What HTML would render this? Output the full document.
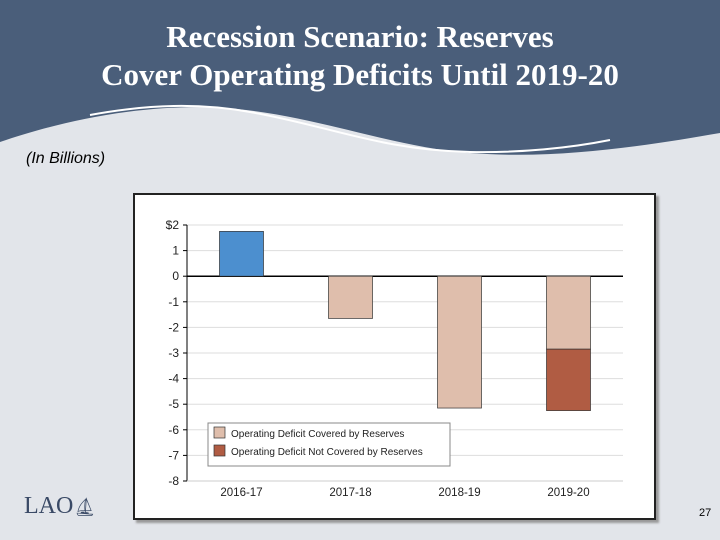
<!DOCTYPE html>
<html><head><meta charset="utf-8"><style>
body{margin:0;width:720px;height:540px;background:#e2e5ea;position:relative;overflow:hidden;font-family:"Liberation Sans",sans-serif}
#title{position:absolute;top:18px;left:0;width:720px;text-align:center;color:#fff;font-family:"Liberation Serif",serif;font-weight:bold;font-size:31px;line-height:38px}
</style></head><body>
<svg width="720" height="170" style="position:absolute;left:0;top:0">
<path d="M0,0 H720 V133 C650,145 560,160 470,153 C380,146 300,108 200,107 C120,107 50,125 0,142 Z" fill="#4a5e7a"/>
<path d="M90,115 C150,104 200,103 250,112 C330,126 380,150 470,152 C520,153 570,148 610,140" fill="none" stroke="#fff" stroke-width="2"/>
</svg>
<div id="title">Recession Scenario: Reserves<br>Cover Operating Deficits Until 2019-20</div>
<div style="position:absolute;left:26px;top:150px;font-style:italic;font-size:16px;color:#000">(In Billions)</div>
<div style="position:absolute;left:133px;top:193px;width:519px;height:323px;background:#fff;border:2px solid #222;box-shadow:3px 3px 2px #999"></div>
<svg id="chart" width="720" height="540" style="position:absolute;left:0;top:0"></svg>
<div style="position:absolute;left:24px;top:493px;font-family:'Liberation Serif',serif;font-size:24px;color:#3a4a66">LAO<span style="font-size:18px;font-family:'DejaVu Sans'">⛵︎</span></div>
<div style="position:absolute;left:699px;top:507px;font-size:11px">27</div>
<script>
const categories=["2016-17","2017-18","2018-19","2019-20"];
const surplus=[1.75,0,0,0];
const covered=[0,-1.65,-5.15,-2.85];
const notCovered=[0,0,0,-2.4];
const ticks=[2,1,0,-1,-2,-3,-4,-5,-6,-7,-8];
const tickLabels=["$2","1","0","-1","-2","-3","-4","-5","-6","-7","-8"];
const svg=document.getElementById('chart');const NS="http://www.w3.org/2000/svg";
const x0=187,x1=623,yTop=225,yBot=481;
const y=v=>yTop+(2-v)*(yBot-yTop)/10;
const cw=(x1-x0)/categories.length,bw=44;
const cx=i=>x0+cw*(i+0.5);
function mk(t,a,txt){const e=document.createElementNS(NS,t);for(const k in a)e.setAttribute(k,a[k]);if(txt!==undefined)e.textContent=txt;svg.appendChild(e);return e;}
ticks.forEach((t,i)=>{
 const g=mk('line',{x1:x0,x2:x1,y1:y(t),y2:y(t),stroke:t===0?'#000':'#ddd','stroke-width':t===0?1.5:1});
 
 
 const tk=mk('line',{x1:x0-4,x2:x0,y1:y(t),y2:y(t),stroke:'#000'});
 
 
 const l=mk('text',{x:x0-8,y:y(t)+4,'text-anchor':'end','font-size':12,fill:'#222'},tickLabels[i]);
 
 
});
const ax=mk('line',{x1:x0,x2:x0,y1:yTop,y2:yBot,stroke:'#000'});


const bx=mk('line',{x1:x0,x2:x1,y1:yBot,y2:yBot,stroke:'#ccc'});


categories.forEach((c,i)=>{
 const l=mk('text',{x:cx(i),y:yBot+15,'text-anchor':'middle','font-size':11.5,fill:'#222'},c);
 
 
 if(surplus[i]){const r=mk('rect',{x:cx(i)-bw/2,y:y(surplus[i]),width:bw,height:y(0)-y(surplus[i]),fill:'#4c8fcf',stroke:'#333','stroke-width':0.7});
 
 }
 if(covered[i]){const r=mk('rect',{x:cx(i)-bw/2,y:y(0),width:bw,height:y(covered[i])-y(0),fill:'#dfbeac',stroke:'#333','stroke-width':0.7});
 
 }
 if(notCovered[i]){const s=covered[i];const r=mk('rect',{x:cx(i)-bw/2,y:y(s),width:bw,height:y(s+notCovered[i])-y(s),fill:'#b05c43',stroke:'#333','stroke-width':0.7});
 
 }
});
const lg=mk('rect',{x:208,y:423,width:242,height:43,fill:'#fff',stroke:'#888'});


[['#dfbeac','Operating Deficit Covered by Reserves',433],['#b05c43','Operating Deficit Not Covered by Reserves',451]].forEach(([c,t,yy])=>{
 const s=mk('rect',{x:214,y:yy-6,width:11,height:11,fill:c,stroke:'#333','stroke-width':0.7});
 
 
 const l=mk('text',{x:231,y:yy+4,'font-size':10,fill:'#222'},t);
 
 
});
</script>
</body></html>
